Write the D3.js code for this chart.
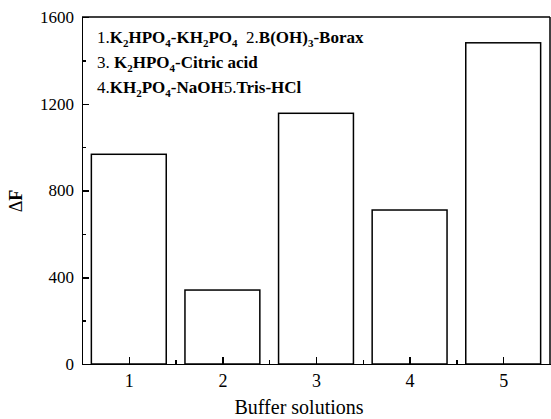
<!DOCTYPE html>
<head>
<meta charset="utf-8">
<title>Buffer solutions</title>
<script type="text/javascript" src="https://cdn.jsdelivr.net/npm/d3@7"></script>
<style>
body { margin: 0; background: #fff; }
svg text, svg tspan { font-family: "Liberation Serif", "Times New Roman", serif !important; fill: #000; }
.axis path, .axis line { fill: none; stroke: #000; stroke-width: 1.5; shape-rendering: crispEdges; }
.axis text { font-size: 17px; }
.xaxis text { font-size: 18px; }
</style>
</head>
<body>
<script>
// values
var buffers = [1, 2, 3, 4, 5];
var deltaF = [967, 341, 1156, 710, 1481];
var yTicks = [0, 400, 800, 1200, 1600];
var yMinor = [200, 600, 1000, 1400];
var xMinor = [1.5, 2.5, 3.5, 4.5];

// legend lines: [text, bold?, subscript?]
var legendLines = [
	[["1.", 0, 0], ["K", 1, 0], ["2", 1, 1], ["HPO", 1, 0], ["4", 1, 1], ["-KH", 1, 0], ["2", 1, 1], ["PO", 1, 0], ["4", 1, 1],
	 ["  2.", 0, 0], ["B(OH)", 1, 0], ["3", 1, 1], ["-Borax", 1, 0]],
	[["3. ", 0, 0], ["K", 1, 0], ["2", 1, 1], ["HPO", 1, 0], ["4", 1, 1], ["-Citric acid", 1, 0]],
	[["4.", 0, 0], ["KH", 1, 0], ["2", 1, 1], ["PO", 1, 0], ["4", 1, 1], ["-NaOH", 1, 0], ["5.", 0, 0], ["Tris-HCl", 1, 0]]
];

var width = 551, height = 419;
var margin = {left: 82, top: 17, right: 1, bottom: 55};
var serif = "'Liberation Serif', 'Times New Roman', serif";

var svg = d3.select("body").append("svg")
	.attr("width", width)
	.attr("height", height)
	.attr("font-family", serif);

var x = d3.scaleLinear().domain([0.5, 5.5]).range([margin.left, width - margin.right]);
var y = d3.scaleLinear().domain([0, 1600]).range([height - margin.bottom, margin.top]);

// bars
svg.selectAll("rect.bar").data(buffers).enter().append("rect")
	.attr("class", "bar")
	.attr("x", function(d) { return x(d - 0.4); })
	.attr("width", function(d) { return x(d + 0.4) - x(d - 0.4); })
	.attr("y", function(d, i) { return y(deltaF[i]); })
	.attr("height", function(d, i) { return y(0) - y(deltaF[i]); })
	.style("fill", "none")
	.style("stroke", "#000")
	.style("stroke-width", 1.5);

// frame top and right
svg.append("line")
	.attr("x1", x(0.5)).attr("x2", x(5.5))
	.attr("y1", y(1600)).attr("y2", y(1600))
	.style("stroke", "#000").style("stroke-width", 1.5);
svg.append("line")
	.attr("x1", x(5.5)).attr("x2", x(5.5))
	.attr("y1", y(1600)).attr("y2", y(0))
	.style("stroke", "#000").style("stroke-width", 1.5);

// axes, ticks inside
var xAxis = svg.append("g").attr("class", "axis xaxis")
	.attr("transform", "translate(0," + y(0) + ")")
	.call(d3.axisBottom(x).tickValues(buffers).tickFormat(d3.format("d")).tickSizeInner(-7).tickSizeOuter(0).tickPadding(10));
svg.append("g").attr("class", "axis")
	.attr("transform", "translate(0," + y(0) + ")")
	.call(d3.axisBottom(x).tickValues(xMinor).tickFormat("").tickSizeInner(-4).tickSizeOuter(0))
	.select(".domain").remove();

svg.append("g").attr("class", "axis")
	.attr("transform", "translate(" + x(0.5) + ",0)")
	.call(d3.axisLeft(y).tickValues(yTicks).tickFormat(d3.format("d")).tickSizeInner(-7).tickSizeOuter(0).tickPadding(8));
svg.append("g").attr("class", "axis")
	.attr("transform", "translate(" + x(0.5) + ",0)")
	.call(d3.axisLeft(y).tickValues(yMinor).tickFormat("").tickSizeInner(-4).tickSizeOuter(0))
	.select(".domain").remove();

svg.selectAll(".axis").attr("font-family", serif);

// axis titles
svg.append("text")
	.attr("x", 299).attr("y", 414)
	.attr("text-anchor", "middle")
	.style("font-size", "20px")
	.text("Buffer solutions");

var yTitle = svg.append("text")
	.attr("transform", "translate(22,201) rotate(-90)")
	.attr("text-anchor", "middle")
	.style("font-size", "18px");
yTitle.append("tspan").text("\u0394");
yTitle.append("tspan").style("font-weight", "bold").text("F");

// legend
var legendY = [43, 68, 93];
legendLines.forEach(function(line, i) {
	var t = svg.append("text")
		.attr("x", 97).attr("y", legendY[i])
		.style("font-size", "17px")
		.attr("xml:space", "preserve");
	line.forEach(function(part) {
		t.append("tspan")
			.style("font-weight", part[1] ? "bold" : "normal")
			.style("font-size", part[2] ? "11px" : "17px")
			.attr("baseline-shift", part[2] ? "-4" : null)
			.text(part[0]);
	});
});
</script>
</body>
